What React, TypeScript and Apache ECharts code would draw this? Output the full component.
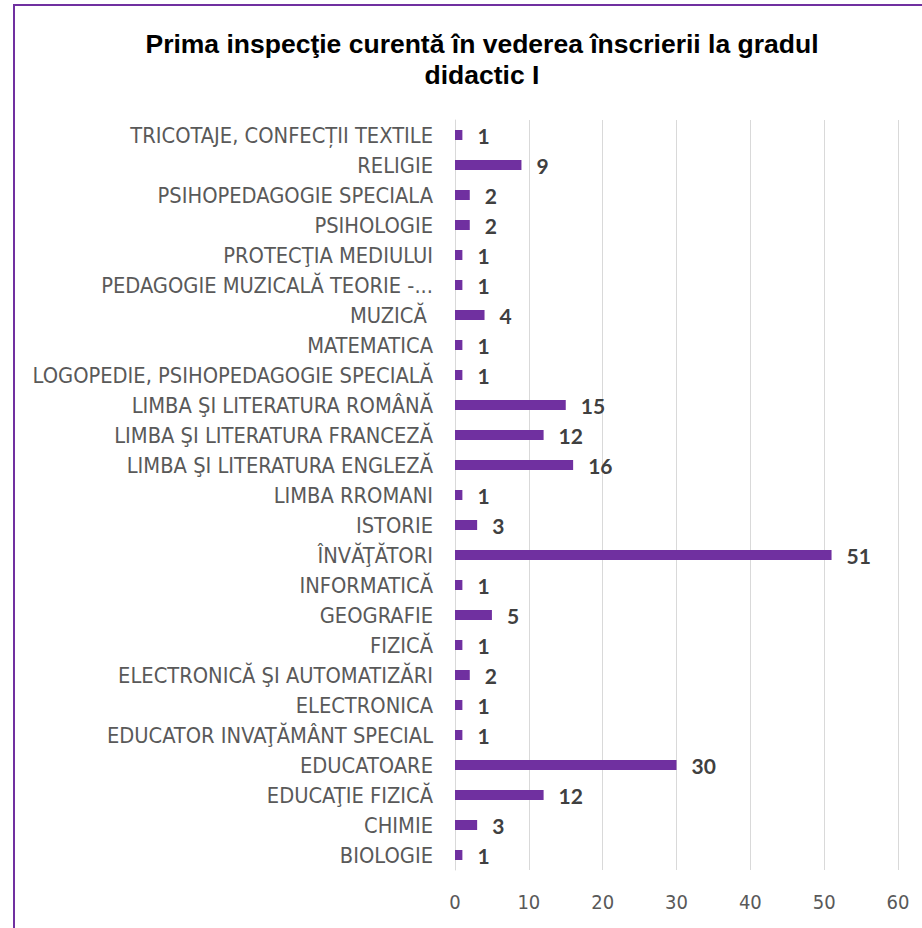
import React, { useEffect, useRef } from "react";
import * as echarts from "echarts";

const categories = [
  "BIOLOGIE",
  "CHIMIE",
  "EDUCAŢIE FIZICĂ",
  "EDUCATOARE",
  "EDUCATOR INVAŢĂMÂNT SPECIAL",
  "ELECTRONICA",
  "ELECTRONICĂ ŞI AUTOMATIZĂRI",
  "FIZICĂ",
  "GEOGRAFIE",
  "INFORMATICĂ",
  "ÎNVĂŢĂTORI",
  "ISTORIE",
  "LIMBA RROMANI",
  "LIMBA ŞI LITERATURA ENGLEZĂ",
  "LIMBA ŞI LITERATURA FRANCEZĂ",
  "LIMBA ŞI LITERATURA ROMÂNĂ",
  "LOGOPEDIE, PSIHOPEDAGOGIE SPECIALĂ",
  "MATEMATICA",
  "MUZICĂ ",
  "PEDAGOGIE MUZICALĂ TEORIE -...",
  "PROTECŢIA MEDIULUI",
  "PSIHOLOGIE",
  "PSIHOPEDAGOGIE SPECIALA",
  "RELIGIE",
  "TRICOTAJE, CONFECȚII TEXTILE",
];

const values = [1, 3, 12, 30, 1, 1, 2, 1, 5, 1, 51, 3, 1, 16, 12, 15, 1, 1, 4, 1, 1, 2, 2, 9, 1];

const titleText = "Prima inspecţie curentă în vederea înscrierii la gradul\ndidactic I";

const xMin = 0;
const xMax = 60;
const xInterval = 10;

export default function App() {
  const ref = useRef<HTMLDivElement>(null);
  useEffect(() => {
    if (!ref.current) return;
    const chart = echarts.init(ref.current, undefined, { renderer: "svg" });
    const labelFont = "'Liberation Sans Narrow', 'DejaVu Sans Condensed', Lato, sans-serif";
    chart.setOption({
      animation: false,
      backgroundColor: "#ffffff",
      title: {
        text: titleText,
        left: 477,
        top: 23,
        textAlign: "center",
        textStyle: {
          fontFamily: "'Liberation Sans', Arial, sans-serif",
          fontWeight: "bold",
          fontSize: 26.5,
          lineHeight: 31,
          color: "#000000",
        },
      },
      graphic: [
        {
          type: "rect",
          shape: { x: 14, y: 5, width: 1200, height: 1200 },
          style: { fill: "none", stroke: "#7030A0", lineWidth: 2 },
          silent: true,
          z: 100,
        },
      ],
      grid: { left: 455, right: 24, top: 120, bottom: 58, containLabel: false },
      xAxis: {
        type: "value",
        min: xMin,
        max: xMax,
        interval: xInterval,
        axisLine: { show: false },
        axisTick: { show: false },
        splitLine: { show: true, lineStyle: { color: "#d9d9d9", width: 1 } },
        axisLabel: {
          color: "#595959",
          fontSize: 20,
          fontFamily: labelFont,
          margin: 22,
        },
      },
      yAxis: {
        type: "category",
        data: categories,
        axisLine: { show: true, lineStyle: { color: "#d9d9d9", width: 1 } },
        axisTick: { show: false },
        axisLabel: {
          color: "#595959",
          fontSize: 21.7,
          fontFamily: labelFont,
          margin: 22,
          interval: 0,
        },
      },
      series: [
        {
          type: "bar",
          data: values,
          barWidth: 10,
          itemStyle: { color: "#7030A0" },
          label: {
            show: true,
            position: "right",
            distance: 15,
            color: "#404040",
            fontWeight: "bold",
            fontSize: 21,
            fontFamily: "Lato, sans-serif",
          },
        },
      ],
    });
    return () => chart.dispose();
  }, []);
  return (
    <div
      ref={ref}
      style={{ position: "fixed", left: 0, top: 0, width: 922, height: 928 }}
    />
  );
}
